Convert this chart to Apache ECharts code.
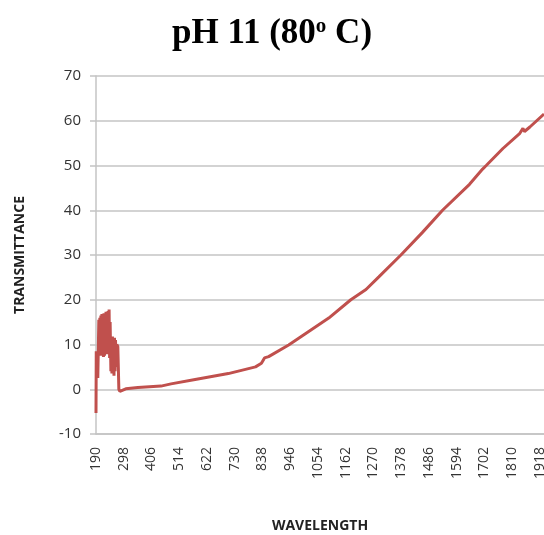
<html>
<head>
    <meta charset="UTF-8">
    <title>pH 11 (80º C)</title>
    <script src="https://cdn.jsdelivr.net/npm/echarts@6/dist/echarts.min.js"></script>
</head>
<body style="margin:0;background:#fff;">
    <div id="container" style="width:544px;height:535px;"></div>
</body>
<script>
    // wavelength (nm) and transmittance
    var wavelength = [190, 191, 194, 197, 199, 201, 203, 205, 207, 209, 211, 213, 215, 217, 219,
        221, 223, 225, 227, 229, 231, 233, 235, 237, 239, 241, 243, 245, 248, 250, 252, 254, 256,
        258, 260, 262, 264, 266, 268, 271, 275, 279, 283, 289, 306, 353, 443, 482, 576, 705, 811,
        834, 846, 862, 940, 1018, 1096, 1182, 1241, 1291, 1377, 1460, 1539, 1644, 1695, 1709,
        1774, 1840, 1852, 1858, 1879, 1934];
    var transmittance = [-5.3, 8.5, 7, 2.5, 9, 15.5, 8, 16, 7.5, 16.5, 7.5, 16.8, 8, 16.5, 7.2,
        17, 7.5, 16.8, 8, 17.3, 7.8, 17, 9, 17.5, 8, 17.8, 7, 15, 4, 11.5, 3.5, 11.8, 4.5,
        11, 3, 11.5, 4, 11, 5, 10, 9.5, 0, -0.5, -0.6, 0.1, 0.4, 0.7, 1.2, 2.2, 3.5, 5.0,
        5.8, 7.0, 7.3, 9.9, 12.9, 15.9, 20.0, 22.3, 25.1, 30, 35, 40, 45.8, 49.2, 50,
        53.8, 57.2, 58.3, 57.6, 58.6, 61.5];
    // tick labels run 190, 298, ... 1918 (step 108)
    var xStart = 190;
    var xStep = 108;
    var xEnd = 1934;

    // axis is counted from the first label so that ticks land on 190 + n*108
    var points = [];
    for (var i = 0; i < wavelength.length; i++) {
        points.push([wavelength[i] - xStart, transmittance[i]]);
    }

    var mycharts = echarts.init(document.getElementById('container'));
    var option = {
        animation: false,
        title: {
            text: '{a|pH 11 (80}{s|o}{a| C)}',
            left: 'center',
            top: 11,
            textStyle: {
                rich: {
                    a: { fontFamily: 'Liberation Serif', fontWeight: 'bold', fontSize: 35, color: '#000' },
                    s: { fontFamily: 'Liberation Serif', fontWeight: 'bold', fontSize: 21, color: '#000', padding: [0, 0, 13, 0] }
                }
            }
        },
        grid: { left: 96, right: 0, top: 76, bottom: 101, outerBoundsMode: 'none' },
        xAxis: {
            type: 'value',
            min: 0,
            max: xEnd - xStart,
            interval: xStep,
            name: 'WAVELENGTH',
            nameLocation: 'middle',
            nameGap: 85,
            nameTextStyle: { fontFamily: 'Open Sans', fontWeight: 'bold', fontSize: 14, color: '#222' },
            axisLine: { show: true, onZero: false, lineStyle: { color: '#c4c4c4', width: 1.5 } },
            axisTick: { show: false },
            splitLine: { show: false },
            axisLabel: {
                formatter: function (v) { return String(v + xStart); },
                rotate: 90,
                margin: 13,
                fontFamily: 'Open Sans',
                fontSize: 14,
                color: '#333'
            }
        },
        yAxis: {
            type: 'value',
            min: -10,
            max: 70,
            interval: 10,
            name: 'TRANSMITTANCE',
            nameLocation: 'middle',
            nameGap: 69,
            nameTextStyle: { fontFamily: 'Open Sans', fontWeight: 'bold', fontSize: 14, color: '#222' },
            axisLine: { show: true, lineStyle: { color: '#c4c4c4', width: 1.5 } },
            axisTick: { show: true, length: 6, lineStyle: { color: '#c4c4c4', width: 1.5 } },
            splitLine: { show: true, lineStyle: { color: '#c4c4c4', width: 1.5 } },
            axisLabel: { margin: 15, fontFamily: 'Open Sans', fontSize: 15, color: '#333' }
        },
        series: [{
            type: 'line',
            data: points,
            showSymbol: false,
            lineStyle: { color: '#C0504D', width: 3 },
            itemStyle: { color: '#C0504D' }
        }]
    };
    mycharts.setOption(option);
</script>
</html>
